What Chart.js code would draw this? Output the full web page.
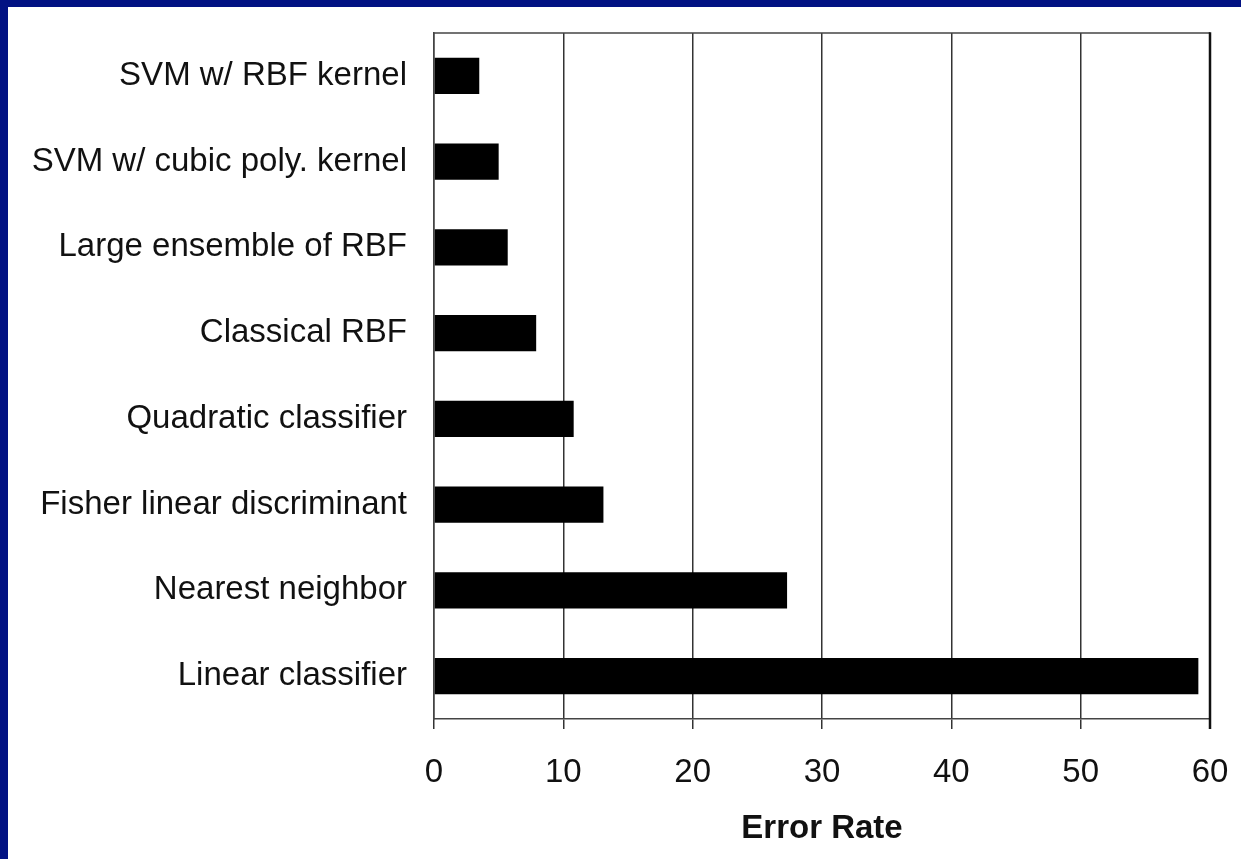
<!DOCTYPE html>
<html>
<head>
<meta charset="utf-8">
<script src="https://cdn.jsdelivr.net/npm/chart.js@4/dist/chart.umd.min.js"></script>
<style>
  html, body { margin: 0; padding: 0; background: #021283; overflow: hidden; }
  #wrap { position: absolute; left: 8px; top: 7px; width: 1233px; height: 852px; background: #ffffff; }
  canvas { display: block; }
</style>
</head>
<body>
<div id="wrap"><canvas id="c" width="1233" height="852"></canvas></div>
<script>
// Classifier names, top to bottom
const classifiers = [
  'SVM w/ RBF kernel',
  'SVM w/ cubic poly. kernel',
  'Large ensemble of RBF',
  'Classical RBF',
  'Quadratic classifier',
  'Fisher linear discriminant',
  'Nearest neighbor',
  'Linear classifier'
];
// Error rate (%) for each classifier
const errorRates = [3.5, 5.0, 5.7, 7.9, 10.8, 13.1, 27.3, 59.1];
// Horizontal axis ticks
const xTicks = [0, 10, 20, 30, 40, 50, 60];

const FONT = "'Liberation Sans', Arial, Helvetica, sans-serif";

// Keep the plot box fixed: no extra room reserved for overhanging labels
function noOverhang(scale) {
  scale.paddingTop = 0;
  scale.paddingBottom = 0;
  scale.paddingLeft = 0;
  scale.paddingRight = 0;
}

// Frame around the plotting area (top and right edges)
const frame = {
  id: 'frame',
  afterDatasetsDraw(chart) {
    const { ctx, chartArea: a } = chart;
    ctx.save();
    ctx.strokeStyle = '#444';
    ctx.lineWidth = 1.5;
    ctx.beginPath();
    ctx.moveTo(a.left, a.top);
    ctx.lineTo(a.right, a.top);
    ctx.stroke();
    ctx.strokeStyle = '#111';
    ctx.lineWidth = 2.5;
    ctx.beginPath();
    ctx.moveTo(a.right, a.top - 0.75);
    ctx.lineTo(a.right, a.bottom + 10);
    ctx.stroke();
    ctx.restore();
  }
};

new Chart(document.getElementById('c'), {
  type: 'bar',
  data: {
    labels: classifiers,
    datasets: [{
      data: errorRates,
      backgroundColor: '#000000',
      borderWidth: 0,
      barPercentage: 0.42,
      categoryPercentage: 1.0
    }]
  },
  options: {
    indexAxis: 'y',
    responsive: false,
    animation: false,
    layout: { padding: { left: 0, right: 31, top: 26, bottom: 0 } },
    plugins: {
      legend: { display: false },
      tooltip: { enabled: false }
    },
    scales: {
      x: {
        type: 'linear',
        min: 0,
        max: 60,
        afterBuildTicks(scale) { scale.ticks = xTicks.map(v => ({ value: v })); },
        afterFit(scale) { scale.height = 140; noOverhang(scale); },
        grid: {
          color: '#333',
          lineWidth: 1.5,
          drawTicks: true,
          tickLength: 10,
          tickColor: '#333'
        },
        border: { display: true, color: '#444', width: 1.5 },
        ticks: {
          color: '#111',
          font: { family: FONT, size: 33 },
          padding: 24,
          maxRotation: 0
        },
        title: {
          display: true,
          text: 'Error Rate',
          color: '#111',
          font: { family: FONT, size: 33, weight: 'bold' },
          padding: { top: 10, bottom: 10 }
        }
      },
      y: {
        afterFit(scale) { scale.width = 426; noOverhang(scale); },
        grid: { display: false, drawTicks: false },
        border: { display: true, color: '#444', width: 1.5 },
        ticks: {
          color: '#111',
          font: { family: FONT, size: 33 },
          padding: 27
        }
      }
    }
  },
  plugins: [frame]
});
</script>
</body>
</html>
